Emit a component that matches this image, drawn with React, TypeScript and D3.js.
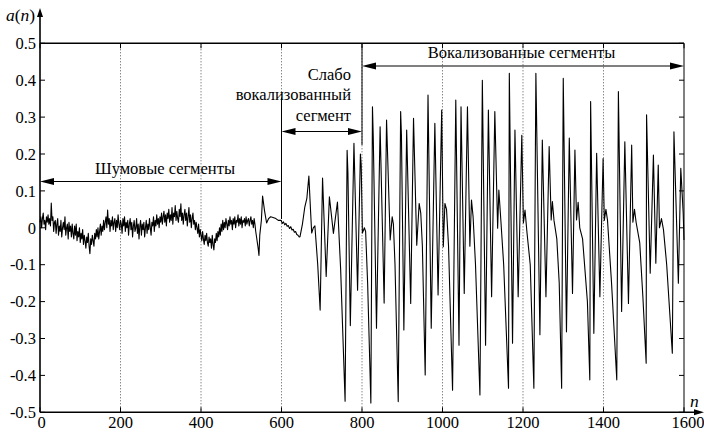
import React from "react";
import * as d3 from "d3";

const W = 704;
const H = 435;
const PL = 40;
const PR = 684;
const PT = 43.3;
const PB = 412.3;

// Noise segment: one value every 2 samples starting at n = 0
const noiseStep = 2;
const noiseValues = [
  0.015, 0.03, 0.0, 0.025, 0.04, 0.01, 0.02, -0.005, 0.03, 0.015,
  0.035, 0.01, 0.025, 0.005, 0.067, 0.02, 0.03, -0.01, 0.015, 0.02,
  -0.015, 0.01, 0.025, -0.02, 0.005, -0.01, 0.02, -0.025, 0.0, 0.015,
  -0.005, 0.03, -0.02, 0.0, 0.01, -0.03, 0.015, -0.01, 0.005, -0.025,
  0.01, -0.015, -0.03, 0.005, -0.02, 0.01, -0.035, -0.01, -0.025, 0.0,
  -0.04, -0.015, -0.03, -0.005, -0.045, -0.02, -0.035, -0.055, -0.025, -0.04,
  -0.015, -0.05, -0.07, -0.03, -0.045, -0.02, -0.035, -0.05, -0.015, -0.03,
  -0.005, -0.025, 0.0, -0.03, -0.01, 0.01, -0.02, 0.005, -0.01, 0.02,
  -0.005, 0.015, 0.03, 0.0, 0.048, 0.01, 0.025, -0.01, 0.02, 0.005,
  0.03, -0.005, 0.015, 0.025, -0.01, 0.02, 0.0, 0.035, 0.01, -0.005,
  0.02, 0.01, -0.015, 0.025, 0.005, 0.03, -0.01, 0.015, 0.0, 0.02,
  -0.02, 0.01, 0.025, -0.005, 0.015, -0.025, 0.005, 0.02, -0.01, 0.0,
  0.025, -0.015, 0.01, -0.03, 0.005, 0.02, -0.02, 0.01, -0.005, 0.015,
  -0.025, 0.0, 0.02, -0.015, 0.01, -0.005, 0.025, 0.0, -0.02, 0.015,
  0.005, 0.03, -0.01, 0.02, 0.005, 0.035, 0.01, 0.025, 0.0, 0.03,
  0.015, 0.04, 0.01, 0.03, 0.045, 0.015, 0.035, 0.005, 0.04, 0.025,
  0.05, 0.015, 0.035, 0.02, 0.055, 0.01, 0.04, 0.03, 0.06, 0.02,
  0.045, 0.025, 0.015, 0.05, 0.03, 0.065, 0.02, 0.04, 0.01, 0.035,
  0.05, 0.02, 0.04, 0.005, 0.03, 0.055, 0.015, 0.035, 0.0, 0.025,
  0.04, 0.01, 0.02, -0.005, 0.015, 0.0, -0.015, 0.01, -0.025, -0.005,
  -0.02, -0.035, -0.01, -0.03, -0.045, -0.02, -0.035, -0.015, -0.04, -0.05,
  -0.025, -0.04, -0.03, -0.055, -0.02, -0.045, -0.06, -0.03, -0.04, -0.015,
  -0.035, -0.01, -0.025, 0.0, -0.02, 0.01, -0.01, 0.02, -0.005, 0.015,
  0.0, 0.025, 0.01, -0.005, 0.02, 0.005, 0.03, 0.01, 0.02, -0.005,
  0.025, 0.01, 0.03, 0.0, 0.02, 0.015, 0.035, 0.005, 0.025, 0.01,
  0.03, 0.0, 0.02, 0.015, 0.025, 0.005, 0.03, 0.01, 0.02, 0.025,
  0.005, 0.02, 0.03, 0.01, 0.02, 0.0, 0.025, 0.01, -0.01, -0.025,
  -0.04, -0.055, -0.075, -0.02,
];

// Transition and voiced segments: sample index / amplitude pairs
const waveN = [
  550, 553, 558, 563, 568, 573, 579, 586, 592, 596, 599, 602, 605, 608, 611, 614, 617, 620, 623, 626,
  629, 632, 635, 638, 641, 644, 646, 652, 658, 663, 668, 672,
  675, 679, 683, 690, 696, 702, 711, 719, 729, 739, 747, 758, 763, 765, 771, 780, 789, 796, 798, 801,
  806, 809, 814, 822, 826, 828, 836, 845, 855, 861, 870, 875, 878, 882, 890, 896, 898, 904, 911, 921,
  928, 936, 942, 946, 950, 957, 964, 972, 981, 989, 998, 1002, 1006, 1010, 1015, 1025, 1033, 1041, 1046, 1054,
  1062, 1068, 1072, 1076, 1082, 1093, 1099, 1107, 1114, 1122, 1130, 1137, 1140, 1145, 1152, 1164, 1166, 1174, 1180, 1188,
  1197, 1201, 1205, 1210, 1218, 1227, 1232, 1242, 1248, 1257, 1265, 1270, 1273, 1277, 1284, 1290, 1296, 1300, 1308, 1315,
  1323, 1329, 1333, 1337, 1341, 1348, 1360, 1366, 1368, 1376, 1383, 1391, 1399, 1402, 1406, 1410, 1420, 1433, 1437, 1445,
  1453, 1462, 1470, 1473, 1477, 1481, 1490, 1498, 1506, 1507, 1516, 1524, 1530, 1536, 1539, 1544, 1549, 1557, 1571, 1575,
  1586, 1592, 1598, 1600,
];
const waveV = [
  0.02, 0.086, 0.045, 0.013, 0.025, 0.03, 0.028, 0.025, 0.02, 0.02, 0.02, 0.012, 0.016, 0.008, 0.012, 0.004, 0.006, -0.002, 0.003, -0.006,
  -0.004, -0.012, -0.01, -0.018, -0.02, -0.025, -0.024, 0.01, 0.057, 0.08, 0.14, 0.05,
  -0.014, 0.0, 0.005, -0.1, -0.223, 0.135, -0.132, 0.084, -0.015, 0.07, -0.114, -0.47, 0.21, 0.15, -0.265, 0.229, -0.169, 0.2, 0.17, -0.014,
  0.0, -0.01, -0.15, -0.475, 0.328, 0.245, -0.272, 0.274, -0.204, 0.292, -0.033, 0.03, 0.01, -0.1, -0.471, 0.315, 0.25, -0.277, 0.265, -0.205,
  0.297, -0.047, 0.066, 0.04, -0.05, -0.399, 0.36, -0.272, 0.283, -0.182, 0.319, -0.051, 0.066, 0.05, -0.05, -0.44, 0.346, -0.318, 0.328, -0.178,
  0.328, -0.05, 0.075, 0.03, -0.1, -0.453, 0.4, -0.318, 0.319, -0.187, 0.315, -0.001, 0.102, 0.02, -0.1, -0.435, 0.419, -0.313, 0.265, -0.187,
  0.251, 0.013, 0.048, -0.014, -0.1, -0.435, 0.419, -0.29, 0.238, -0.187, 0.22, 0.021, 0.071, 0.02, -0.03, -0.15, -0.435, 0.405, -0.282, 0.243,
  -0.178, 0.211, 0.021, 0.069, 0.0, -0.03, -0.2, -0.412, 0.342, -0.286, 0.202, -0.187, 0.188, 0.02, 0.05, 0.02, -0.15, -0.412, 0.369, -0.227,
  0.233, -0.205, 0.224, 0.015, 0.05, 0.015, -0.04, -0.19, -0.367, 0.306, -0.123, 0.197, -0.096, 0.17, 0.0, 0.025, -0.005, -0.1, -0.34, 0.26,
  -0.15, 0.161, 0.04, -0.033,
];

const yTicks = [0.5, 0.4, 0.3, 0.2, 0.1, 0, -0.1, -0.2, -0.3, -0.4, -0.5];
const yTickLabels = ["0.5", "0.4", "0.3", "0.2", "0.1", "0", "-0.1", "-0.2", "-0.3", "-0.4", "-0.5"];
const xTicks = [0, 200, 400, 600, 800, 1000, 1200, 1400, 1600];
const xTickLabels = ["0", "200", "400", "600", "800", "1000", "1200", "1400", "1600"];

const labelNoise = "Шумовые сегменты";
const labelWeak = ["Слабо", "вокализованный", "сегмент"];
const labelVoiced = "Вокализованные сегменты";

const FONT = "Liberation Serif";

function DoubleArrow({ x1, x2, y }: { x1: number; x2: number; y: number }) {
  const L = 14;
  const hw = 3.5;
  return (
    <g>
      <line x1={x1 + L - 1} x2={x2 - L + 1} y1={y} y2={y} stroke="#000" strokeWidth={1.2} />
      <polygon points={`${x1},${y} ${x1 + L},${y - hw} ${x1 + L},${y + hw}`} fill="#000" />
      <polygon points={`${x2},${y} ${x2 - L},${y - hw} ${x2 - L},${y + hw}`} fill="#000" />
    </g>
  );
}

export default function App() {
  const x = d3.scaleLinear().domain([0, 1600]).range([PL, PR]);
  const y = d3.scaleLinear().domain([-0.5, 0.5]).range([PB, PT]);

  const pts: [number, number][] = [];
  noiseValues.forEach((v, i) => pts.push([i * noiseStep, v]));
  waveN.forEach((n, i) => pts.push([n, waveV[i]]));

  const line = d3
    .line<[number, number]>()
    .x((d) => x(d[0]))
    .y((d) => y(d[1]));

  const gridX = xTicks.filter((t) => t > 0 && t < 1600);
  const ts = { fontFamily: FONT };

  return (
    <svg width={W} height={H} style={{ position: "absolute", left: 0, top: 0, background: "#fff" }}>
      <rect x={0} y={0} width={W} height={H} fill="#fff" />
      {gridX.map((t) => (
        <line
          key={"g" + t}
          x1={x(t)}
          x2={x(t)}
          y1={PT}
          y2={PB}
          stroke="#555"
          strokeWidth={1}
          strokeDasharray="1,2"
        />
      ))}
      {yTicks.map((t) => (
        <g key={"yt" + t}>
          <line x1={PL} x2={PL + 5} y1={y(t)} y2={y(t)} stroke="#000" strokeWidth={1} />
          <line x1={PR - 5} x2={PR} y1={y(t)} y2={y(t)} stroke="#000" strokeWidth={1} />
        </g>
      ))}
      {xTicks.map((t) => (
        <g key={"xt" + t}>
          <line x1={x(t)} x2={x(t)} y1={PB} y2={PB - 5} stroke="#000" strokeWidth={1} />
          <line x1={x(t)} x2={x(t)} y1={PT} y2={PT + 5} stroke="#000" strokeWidth={1} />
        </g>
      ))}

      <line x1={x(600)} x2={x(600)} y1={98} y2={219} stroke="#000" strokeWidth={1} />
      <line x1={x(800)} x2={x(800)} y1={PT} y2={145} stroke="#000" strokeWidth={1} />

      <path d={line(pts) || ""} fill="none" stroke="#000" strokeWidth={1.1} strokeLinejoin="round" />

      <line x1={PL} x2={PR} y1={PT} y2={PT} stroke="#000" strokeWidth={1.4} />
      <line x1={PR} x2={PR} y1={PT} y2={PB} stroke="#000" strokeWidth={1} />
      <line x1={PL} x2={PL} y1={PB} y2={12} stroke="#000" strokeWidth={1.6} />
      <line x1={PL} x2={696} y1={PB} y2={PB} stroke="#000" strokeWidth={1.6} />
      <polygon points={`${PL},8 ${PL - 3},17 ${PL + 3},17`} fill="#000" />
      <polygon points={`704,${PB} 694,${PB - 3} 694,${PB + 3}`} fill="#000" />

      {yTicks.map((t, i) => (
        <text key={"yl" + t} x={36} y={y(t)} dy="0.35em" textAnchor="end" fontSize={16.5} fill="#000" style={ts}>
          {yTickLabels[i]}
        </text>
      ))}
      {xTicks.map((t, i) => (
        <text
          key={"xl" + t}
          x={x(t) + (t === 1600 ? 4 : t === 0 ? 1.5 : 0)}
          y={428}
          textAnchor="middle"
          fontSize={16.5}
          fill="#000"
          style={ts}
        >
          {xTickLabels[i]}
        </text>
      ))}

      <text x={6} y={21} fontSize={17.5} fill="#000" style={ts}>
        <tspan fontStyle="italic">a</tspan>
        <tspan>(</tspan>
        <tspan fontStyle="italic">n</tspan>
        <tspan>)</tspan>
      </text>
      <text x={690} y={407} fontSize={17.5} fontStyle="italic" fill="#000" style={ts}>
        n
      </text>

      <text x={165} y={174} textAnchor="middle" fontSize={16.5} fill="#000" style={ts}>
        {labelNoise}
      </text>
      <DoubleArrow x1={PL} x2={x(600)} y={181.5} />

      {labelWeak.map((s, i) => (
        <text key={s} x={351} y={80 + i * 20.3} textAnchor="end" fontSize={16.5} fill="#000" style={ts}>
          {s}
        </text>
      ))}
      <DoubleArrow x1={x(600)} x2={x(800)} y={131.5} />

      <text x={521.5} y={58} textAnchor="middle" fontSize={16.5} fill="#000" style={ts}>
        {labelVoiced}
      </text>
      <DoubleArrow x1={x(800)} x2={PR} y={66} />
    </svg>
  );
}
